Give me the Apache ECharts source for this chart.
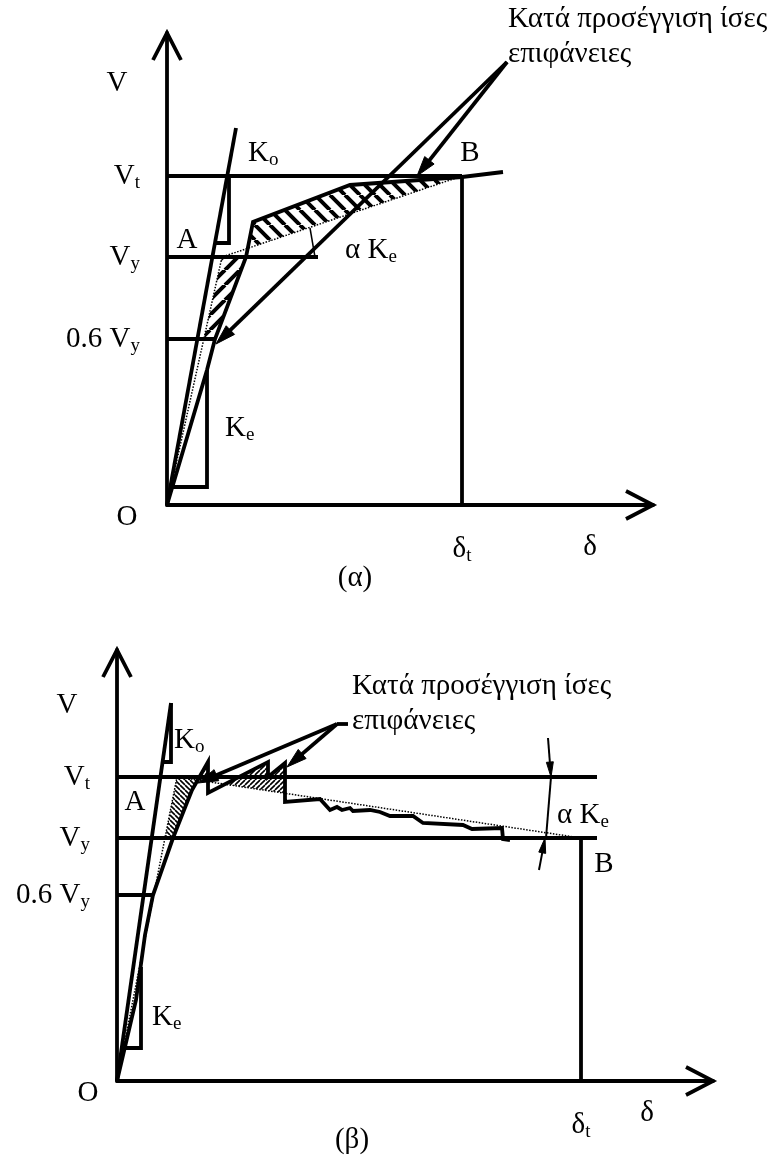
<!DOCTYPE html>
<html>
<head>
<meta charset="utf-8">
<script src="https://cdn.jsdelivr.net/npm/echarts@6/dist/echarts.min.js"></script>
<style>
  html, body { margin: 0; padding: 0; background: #fff; }
  #chart { width: 778px; height: 1156px; }
</style>
</head>
<body>
<div id="chart"></div>
<script>
// ---------- Panel (α): capacity curve with positive post-yield branch ----------
const levelsA = { V06: 166, Vy: 248, Vt: 329 };          // force levels (V)
const deltaTA = 295;                                      // target displacement δt
const capacityA = [[0, 0], [40, 135], [48, 166], [79, 248], [86, 283], [183, 320], [295, 328], [336, 333]];
const bilinearA = [[0, 0], [55, 248], [295, 329]];        // O – A – B idealisation
const stiffKoA = [[0, 0], [69, 377]];                     // initial stiffness Ko
const koMarkA = [[62, 329], [62, 262], [48, 262]];
const keMarkA = [[40, 135], [40, 18], [5, 18]];
const leadersA = [[[340, 443], [250, 329]], [[340, 443], [49, 161]]];
const angleMarkA = [[143, 277], [148, 248]];

// ---------- Panel (β): capacity curve with softening post-peak branch ----------
const levelsB = { V06: 186, Vy: 243, Vt: 304 };
const deltaTB = 464;
const capacityB = [[0, 0], [19, 81], [28, 146], [36, 186], [56, 243], [69, 276], [75, 291], [91, 319], [91, 288],
  [151, 319], [151, 304], [168, 318], [168, 279], [203, 282], [213, 271], [220, 274], [225, 271], [233, 273],
  [236, 270], [253, 271], [263, 269], [273, 265], [296, 265], [306, 258], [346, 256], [355, 252], [385, 253],
  [386, 242], [393, 241]];
const bilinearB = [[0, 0], [60, 304], [464, 243]];
const stiffKoB = [[0, 0], [54, 378]];
const koMarkB = [[54, 378], [54, 319], [46, 319]];
const keMarkB = [[24, 114], [24, 33], [7, 33]];
const leadersB = [[[220, 357], [81, 298]], [[220, 357], [170, 314]]];
const leaderStubB = [[220, 357], [231, 357]];
const gaugeB = { top: [[431, 343], [434, 304]], span: [[434, 304], [429, 243]], bottom: [[422, 211], [428, 243]] };

const TITLE = 'Κατά προσέγγιση ίσες\nεπιφάνειες';

// ---------- layout (axis extents, label anchors, line ends) ----------
const layout = {
  A: {
    grid: { left: 167, top: 33, width: 486, height: 472 }, xMax: 486, yMax: 472,
    lineEnds: { Vy: 151, V06: 48 },
    labels: [
      { t: '{m|V}', at: [-50, 422] },
      { t: '{m|O}', at: [-40, -12] },
      { t: '{m|A}', at: [20, 265] },
      { t: '{m|K}{s|o}', at: [81, 352], align: 'left' },
      { t: '{m|K}{s|e}', at: [58, 77], align: 'left' },
      { t: '{m|α K}{s|e}', at: [178, 255], align: 'left' },
      { t: '{m|B}', at: [303, 352] },
      { t: '{m|δ}', at: [423, -42] },
      { t: '{m|(α)}', at: [188, -73] },
      { t: TITLE, at: [341, 503], align: 'left', valign: 'top', title: true }
    ],
    hatch: { size: 15, width: 4 }
  },
  B: {
    grid: { left: 117, top: 650, width: 596, height: 431 }, xMax: 596, yMax: 431,
    lineEnds: { Vt: 480, Vy: 480, V06: 36 },
    labels: [
      { t: '{m|V}', at: [-50, 376] },
      { t: '{m|O}', at: [-29, -12] },
      { t: '{m|A}', at: [18, 279] },
      { t: '{m|K}{s|o}', at: [57, 341], align: 'left' },
      { t: '{m|K}{s|e}', at: [35, 64], align: 'left' },
      { t: '{m|α K}{s|e}', at: [440, 266], align: 'left' },
      { t: '{m|B}', at: [487, 217] },
      { t: '{m|δ}', at: [530, -32] },
      { t: '{m|(β)}', at: [235, -59] },
      { t: TITLE, at: [235, 412], align: 'left', valign: 'top', title: true }
    ],
    hatch: { size: 5, width: 1.6 }
  }
};

const FONT = '"Liberation Serif", "Times New Roman", serif';
const richAxis = {
  m: { fontFamily: FONT, fontSize: 29, color: '#000' },
  s: { fontFamily: FONT, fontSize: 19, color: '#000', padding: [15, 0, 0, 0] }
};
const richText = {
  m: { fontFamily: FONT, fontSize: 29, fill: '#000' },
  s: { fontFamily: FONT, fontSize: 19, fill: '#000', padding: [15, 0, 0, 0] }
};

// ---------- geometry helpers ----------
function lineSide(p0, p1) {
  return p => (p1[0] - p0[0]) * (p[1] - p0[1]) - (p1[1] - p0[1]) * (p[0] - p0[0]);
}
// keep the part of a polygon where side(p) >= 0
function clipHalf(poly, side) {
  const out = [];
  for (let i = 0; i < poly.length; i++) {
    const a = poly[i], b = poly[(i + 1) % poly.length];
    const sa = side(a), sb = side(b);
    if (sa >= 0) out.push(a);
    if ((sa >= 0) !== (sb >= 0)) {
      const t = sa / (sa - sb);
      out.push([a[0] + t * (b[0] - a[0]), a[1] + t * (b[1] - a[1])]);
    }
  }
  return out;
}
// area where the capacity curve lies above the post-yield branch p0→p1
function surplus(cap, p0, p1) {
  const side = lineSide(p0, p1);
  let first = -1, last = -1;
  cap.forEach((p, i) => {
    if (p[0] >= p0[0] && p[0] <= p1[0] && side(p) > 0) { if (first < 0) first = i; last = i; }
  });
  const pts = cap.slice(Math.max(first - 1, 0), Math.min(last + 2, cap.length));
  return clipHalf(pts, side);
}
function keAt(bil, v) {          // point on the elastic branch at force v
  const a = bil[1];
  return [a[0] * v / a[1], v];
}

// hatch fill made of parallel strokes
function hatchPattern(size, width, dir) {
  const c = document.createElement('canvas');
  c.width = size; c.height = size;
  const g = c.getContext('2d');
  g.strokeStyle = '#000'; g.lineWidth = width; g.lineCap = 'butt';
  g.beginPath();
  for (let k = -1; k <= 2; k++) {
    const x0 = k * size;
    g.moveTo(x0, 0);
    g.lineTo(dir === '/' ? x0 - size : x0 + size, size);
  }
  g.stroke();
  return { image: c, repeat: 'repeat' };
}

// hatched regions
const A_pt = bilinearA[1], B_pt = bilinearA[2];
const hatchA = [
  { poly: surplus(capacityA, A_pt, B_pt), dir: '\\' },
  { poly: [A_pt].concat(capacityA.filter(p => p[1] >= levelsA.V06 && p[1] <= levelsA.Vy).reverse(), [keAt(bilinearA, levelsA.V06)]), dir: '/' }
];
const A2 = bilinearB[1], B2 = bilinearB[2];
const peakB = capacityB.findIndex((p, i) => i + 1 < capacityB.length && capacityB[i + 1][1] < p[1]);
const hatchB = [
  { poly: surplus(capacityB, A2, B2), dir: '/' },
  { poly: clipHalf([keAt(bilinearB, levelsB.Vy), A2].concat(
      capacityB.slice(0, peakB + 1).filter(p => p[1] >= levelsB.Vy).reverse()), lineSide(B2, A2)), dir: '\\' }
];

// ---------- pixel-space drawing helpers ----------
function unit(a, b) { const dx = b[0] - a[0], dy = b[1] - a[1], L = Math.hypot(dx, dy); return [dx / L, dy / L]; }
function arrowShapes(from, tip, len, half, width) {
  const u = unit(from, tip);
  const base = [tip[0] - u[0] * len, tip[1] - u[1] * len];
  const stem = [tip[0] - u[0] * len * 0.6, tip[1] - u[1] * len * 0.6];
  return [
    { type: 'polyline', shape: { points: [from, stem] }, style: { stroke: '#000', lineWidth: width, fill: null } },
    { type: 'polygon', shape: { points: [tip, [base[0] - u[1] * half, base[1] + u[0] * half], [base[0] + u[1] * half, base[1] - u[0] * half]] },
      style: { fill: '#000', stroke: '#000', lineWidth: 1 } }
  ];
}
function chevron(tip, dirTo, len, half) {
  const u = unit([0, 0], dirTo);
  const b = [tip[0] - u[0] * len, tip[1] - u[1] * len];
  return { type: 'polyline', shape: { points: [[b[0] - u[1] * half, b[1] + u[0] * half], tip, [b[0] + u[1] * half, b[1] - u[0] * half]] },
    style: { stroke: '#000', lineWidth: 3.8, fill: null, lineJoin: 'miter' } };
}

function decor(cfg) {
  return function (params, api) {
    const P = p => api.coord(p);
    const kids = [];
    cfg.hatch.forEach(h => kids.push({
      type: 'polygon', shape: { points: h.poly.map(P) },
      style: { fill: hatchPattern(cfg.lay.hatch.size, cfg.lay.hatch.width, h.dir), stroke: null }
    }));
    // axis arrow heads
    kids.push(chevron(P([cfg.lay.xMax, 0]), [1, 0], 27, 14));
    kids.push(chevron(P([0, cfg.lay.yMax]), [0, -1], 27, 14));
    // leaders and gauges
    cfg.arrows.forEach(a => arrowShapes(P(a.from), P(a.to), a.len, a.half, a.width).forEach(s => kids.push(s)));
    cfg.plain.forEach(pl => kids.push({ type: 'polyline', shape: { points: pl.pts.map(P) },
      style: { stroke: '#000', lineWidth: pl.width, fill: null } }));
    // text
    cfg.lay.labels.forEach(l => {
      const p = P(l.at);
      kids.push({
        type: 'text', x: p[0], y: p[1],
        style: l.title
          ? { text: l.t, fontFamily: FONT, fontSize: 29, lineHeight: 35, fill: '#000', align: 'left', verticalAlign: 'top' }
          : { text: l.t, rich: richText, fill: '#000', align: l.align || 'center', verticalAlign: 'middle' }
      });
    });
    return { type: 'group', children: kids };
  };
}

function lineSeries(g, pts, style) {
  return {
    type: 'line', xAxisIndex: g, yAxisIndex: g, data: pts, symbol: 'none', silent: true, clip: false,
    animation: false, z: 3,
    lineStyle: Object.assign({ color: '#000', width: 3.8, join: 'miter', cap: 'butt' }, style || {})
  };
}

function levelLabel(levels) {
  return v => v === levels.Vt ? '{m|V}{s|t}' : v === levels.Vy ? '{m|V}{s|y}' : '{m|0.6 V}{s|y}';
}

function axesFor(g, lay, levels, dT) {
  const x = {
    gridIndex: g, type: 'value', min: 0, max: lay.xMax,
    axisLine: { show: true, onZero: false, lineStyle: { color: '#000', width: 3.8 } },
    axisTick: { show: false }, splitLine: { show: false },
    axisLabel: { customValues: [dT], formatter: () => '{m|δ}{s|t}', rich: richAxis, margin: 27 }
  };
  const y = {
    gridIndex: g, type: 'value', min: 0, max: lay.yMax,
    axisLine: { show: true, onZero: false, lineStyle: { color: '#000', width: 3.8 } },
    axisTick: { show: false }, splitLine: { show: false },
    axisLabel: { customValues: [levels.V06, levels.Vy, levels.Vt], formatter: levelLabel(levels), rich: richAxis, margin: 27 }
  };
  return [x, y];
}

const [xA, yA] = axesFor(0, layout.A, levelsA, deltaTA);
const [xB, yB] = axesFor(1, layout.B, levelsB, deltaTB);

const LA = layout.A, LB = layout.B;
const series = [
  // (α)
  lineSeries(0, [[0, levelsA.Vt], [deltaTA, levelsA.Vt]]),
  lineSeries(0, [[0, levelsA.Vy], [LA.lineEnds.Vy, levelsA.Vy]]),
  lineSeries(0, [[0, levelsA.V06], [LA.lineEnds.V06, levelsA.V06]]),
  lineSeries(0, [[deltaTA, 0], [deltaTA, levelsA.Vt]]),
  lineSeries(0, stiffKoA),
  lineSeries(0, koMarkA),
  lineSeries(0, keMarkA),
  lineSeries(0, bilinearA, { width: 1.5, type: 'dotted' }),
  lineSeries(0, capacityA),
  lineSeries(0, angleMarkA, { width: 1.5 }),
  {
    type: 'custom', xAxisIndex: 0, yAxisIndex: 0, data: [[0, 0]], clip: false, silent: true, z: 4,
    renderItem: decor({
      lay: LA, hatch: hatchA,
      arrows: leadersA.map(l => ({ from: l[0], to: l[1], len: 20, half: 6, width: 3.8 })),
      plain: []
    })
  },
  // (β)
  lineSeries(1, [[0, levelsB.Vt], [LB.lineEnds.Vt, levelsB.Vt]]),
  lineSeries(1, [[0, levelsB.Vy], [LB.lineEnds.Vy, levelsB.Vy]]),
  lineSeries(1, [[0, levelsB.V06], [LB.lineEnds.V06, levelsB.V06]]),
  lineSeries(1, [[deltaTB, 0], [deltaTB, levelsB.Vy]]),
  lineSeries(1, stiffKoB),
  lineSeries(1, koMarkB),
  lineSeries(1, keMarkB),
  lineSeries(1, bilinearB, { width: 1.5, type: 'dotted' }),
  lineSeries(1, capacityB),
  lineSeries(1, leaderStubB),
  {
    type: 'custom', xAxisIndex: 1, yAxisIndex: 1, data: [[0, 0]], clip: false, silent: true, z: 4,
    renderItem: decor({
      lay: LB, hatch: hatchB,
      arrows: leadersB.map(l => ({ from: l[0], to: l[1], len: 20, half: 6, width: 3.8 }))
        .concat([
          { from: gaugeB.top[0], to: gaugeB.top[1], len: 15, half: 3.5, width: 2 },
          { from: gaugeB.bottom[0], to: gaugeB.bottom[1], len: 15, half: 3.5, width: 2 }
        ]),
      plain: [{ pts: gaugeB.span, width: 2 }]
    })
  }
];

const chart = echarts.init(document.getElementById('chart'), null, { renderer: 'canvas' });
chart.setOption({
  animation: false,
  backgroundColor: '#fff',
  grid: [Object.assign({}, LA.grid), Object.assign({}, LB.grid)],
  xAxis: [xA, xB],
  yAxis: [yA, yB],
  series: series
});
</script>
</body>
</html>
